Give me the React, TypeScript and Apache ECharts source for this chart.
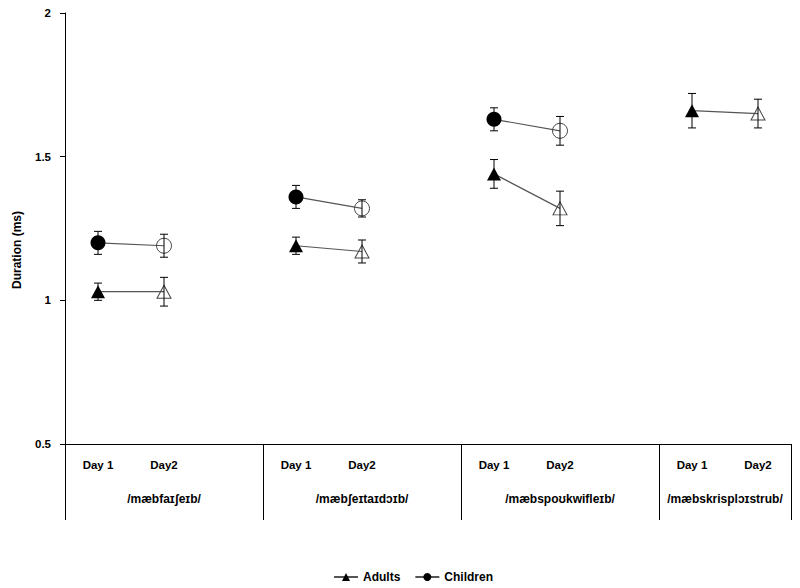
import React, { useEffect, useRef } from "react";
import * as echarts from "echarts";

const categories = ["Day 1", "Day2", "", "Day 1", "Day2", "", "Day 1", "Day2", "", "Day 1", "Day2"];
const words = ["/mæbfaɪʃeɪb/", "/mæbʃeɪtaɪdɔɪb/", "/mæbspoʊkwifleɪb/", "/mæbskrisplɔɪstrub/"];
const wordCenters = [1, 4, 7, 9.5];
const groupEdges = [-0.5, 2.5, 5.5, 8.5, 10.5];

const adults = [1.03, 1.03, null, 1.19, 1.17, null, 1.44, 1.32, null, 1.66, 1.65];
const adultsLow = [1.0, 0.98, null, 1.16, 1.13, null, 1.39, 1.26, null, 1.6, 1.6];
const adultsHigh = [1.06, 1.08, null, 1.22, 1.21, null, 1.49, 1.38, null, 1.72, 1.7];

const children = [1.2, 1.19, null, 1.36, 1.32, null, 1.63, 1.59, null, null, null];
const childrenLow = [1.16, 1.15, null, 1.32, 1.29, null, 1.59, 1.54, null, null, null];
const childrenHigh = [1.24, 1.23, null, 1.4, 1.35, null, 1.67, 1.64, null, null, null];

const FONT = "'Liberation Sans', Arial, sans-serif";

function pointData(vals: (number | null)[]) {
  return vals.map((v, i) => {
    if (v === null) return null;
    const hollow = categories[i] === "Day2";
    return {
      value: v,
      itemStyle: hollow
        ? { color: "rgba(255,255,255,0)", borderColor: "#444", borderWidth: 1 }
        : { color: "#000", borderColor: "#000", borderWidth: 0 },
    };
  });
}

function errData(lo: (number | null)[], hi: (number | null)[]) {
  const out: number[][] = [];
  lo.forEach((l, i) => {
    const h = hi[i];
    if (l !== null && h !== null) out.push([i, l, h]);
  });
  return out;
}

function renderErr(params: any, api: any) {
  const x = api.value(0);
  const p1 = api.coord([x, api.value(1)]);
  const p2 = api.coord([x, api.value(2)]);
  const w = 4;
  const style = { stroke: "#000", lineWidth: 1 };
  return {
    type: "group",
    children: [
      { type: "line", shape: { x1: p1[0], y1: p1[1], x2: p2[0], y2: p2[1] }, style },
      { type: "line", shape: { x1: p1[0] - w, y1: p1[1], x2: p1[0] + w, y2: p1[1] }, style },
      { type: "line", shape: { x1: p2[0] - w, y1: p2[1], x2: p2[0] + w, y2: p2[1] }, style },
    ],
  };
}

export default function App() {
  const ref = useRef<HTMLDivElement>(null);
  useEffect(() => {
    document.body.style.margin = "0";
    if (!ref.current) return;
    const chart = echarts.init(ref.current, null, { renderer: "svg" });
    const boldText = { fontFamily: FONT, fontWeight: "bold", fontSize: 11, color: "#000" };
    chart.setOption({
      animation: false,
      backgroundColor: "#fff",
      textStyle: { fontFamily: FONT },
      grid: { left: 65, top: 13, width: 726, height: 431 },
      legend: {
        left: 328,
        top: 566,
        itemWidth: 24,
        itemHeight: 10,
        itemGap: 14,
        textStyle: { fontFamily: FONT, fontWeight: "bold", fontSize: 12, color: "#000" },
        data: ["Adults", "Children"],
      },
      graphic: [
        {
          type: "text",
          x: 17,
          y: 250,
          rotation: Math.PI / 2,
          style: {
            text: "Duration (ms)",
            font: `bold 12px ${FONT}`,
            fill: "#000",
            textAlign: "center",
            textVerticalAlign: "middle",
          },
        },
      ],
      xAxis: [
        {
          type: "category",
          data: categories,
          boundaryGap: true,
          axisLine: { show: true, onZero: false, lineStyle: { color: "#000", width: 1 } },
          axisTick: { show: false },
          axisLabel: { ...boldText, fontSize: 11.5, interval: 0, margin: 15 },
          splitLine: { show: false },
        },
        {
          type: "value",
          position: "bottom",
          min: -0.5,
          max: 10.5,
          axisLine: { show: false, onZero: false },
          splitLine: { show: false },
          axisTick: {
            show: true,
            inside: false,
            length: 76,
            customValues: groupEdges,
            lineStyle: { color: "#000", width: 1 },
          },
          axisLabel: {
            ...boldText,
            fontSize: 12,
            margin: 49,
            customValues: wordCenters,
            formatter: (v: number) => {
              const idx = wordCenters.indexOf(v);
              return idx >= 0 ? words[idx] : "";
            },
          },
        },
      ],
      yAxis: {
        type: "value",
        min: 0.5,
        max: 2,
        interval: 0.5,
        axisLine: { show: true, onZero: false, lineStyle: { color: "#000", width: 1 } },
        axisTick: { show: true, inside: false, length: 5, lineStyle: { color: "#000" } },
        splitLine: { show: false },
        axisLabel: { ...boldText, fontSize: 11.5, margin: 14 },
      },
      series: [
        {
          name: "Adults",
          type: "line",
          xAxisIndex: 0,
          data: pointData(adults),
          connectNulls: false,
          symbol: "triangle",
          symbolSize: [14, 13],
          itemStyle: { color: "#000" },
          lineStyle: { color: "#555", width: 1.2 },
          z: 3,
        },
        {
          name: "Children",
          type: "line",
          xAxisIndex: 0,
          data: pointData(children),
          connectNulls: false,
          symbol: "circle",
          symbolSize: 15,
          itemStyle: { color: "#000" },
          lineStyle: { color: "#555", width: 1.2 },
          z: 3,
        },
        {
          type: "custom",
          xAxisIndex: 0,
          renderItem: renderErr,
          data: errData(adultsLow, adultsHigh),
          z: 5,
          silent: true,
        },
        {
          type: "custom",
          xAxisIndex: 0,
          renderItem: renderErr,
          data: errData(childrenLow, childrenHigh),
          z: 5,
          silent: true,
        },
      ],
    });
    return () => chart.dispose();
  }, []);
  return <div ref={ref} style={{ width: 800, height: 588 }} />;
}
